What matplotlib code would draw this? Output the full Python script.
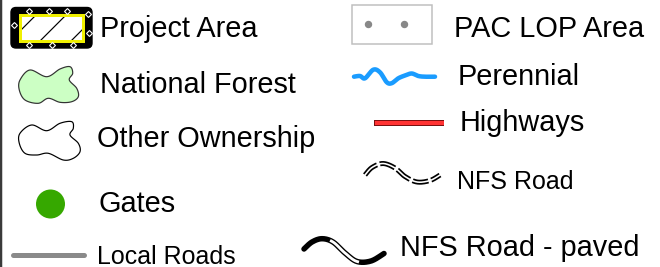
import numpy as np
import matplotlib
matplotlib.use("Agg")
import matplotlib.pyplot as plt
from matplotlib.patches import FancyBboxPatch, Rectangle, Polygon, Circle

# legend entries (left column, right column)
left_labels = ["Project Area", "National Forest", "Other Ownership", "Gates", "Local Roads"]
left_sizes = [20.8, 20.8, 20.8, 20.8, 18]
right_labels = ["PAC LOP Area", "Perennial", "Highways", "NFS Road", "NFS Road - paved"]
right_sizes = [20.8, 20.8, 20.8, 18, 20.8]

plt.rcParams['font.family'] = ['Liberation Sans', 'DejaVu Sans']


def smooth_closed(pts, n=20):
    # closed Catmull-Rom through the outline points
    p = np.asarray(pts, float)
    out = []
    m = len(p)
    for i in range(m):
        p0, p1, p2, p3 = p[i - 1], p[i], p[(i + 1) % m], p[(i + 2) % m]
        for t in np.linspace(0, 1, n, endpoint=False):
            t2, t3 = t * t, t * t * t
            out.append(0.5 * ((2 * p1) + (-p0 + p2) * t + (2 * p0 - 5 * p1 + 4 * p2 - p3) * t2
                              + (-p0 + 3 * p1 - 3 * p2 + p3) * t3))
    return np.array(out)


def smooth_open(pts, n=20):
    p = np.asarray(pts, float)
    p = np.vstack([p[0], p, p[-1]])
    out = []
    for i in range(1, len(p) - 2):
        p0, p1, p2, p3 = p[i - 1], p[i], p[i + 1], p[i + 2]
        for t in np.linspace(0, 1, n, endpoint=False):
            t2, t3 = t * t, t * t * t
            out.append(0.5 * ((2 * p1) + (-p0 + p2) * t + (2 * p0 - 5 * p1 + 4 * p2 - p3) * t2
                              + (-p0 + 3 * p1 - 3 * p2 + p3) * t3))
    out.append(p[-2])
    return np.array(out)


fig = plt.figure(figsize=(6.6, 2.67), dpi=100)
ax = fig.add_axes([0, 0, 1, 1])
ax.set_xlim(0, 660)
ax.set_ylim(267, 0)
ax.axis('off')

px = 0.72  # pixels -> points

# left border
ax.plot([1, 1], [0, 267], color='#3a3a3a', lw=2.5 * px)

# --- Project Area ---
ax.add_patch(FancyBboxPatch((11, 7.5), 81, 40.5, boxstyle="round,pad=0,rounding_size=5",
                            fc='black', ec='black', lw=1))
inner = Rectangle((19.5, 14.5), 63.5, 26, fc='white', ec='#f0f000', lw=3 * px, zorder=3)
ax.add_patch(inner)
for c in [51, 81, 112]:
    ln, = ax.plot([c - 45, c - 5], [45, 5], color='black', lw=1.2 * px, zorder=4)
    ln.set_clip_path(inner)
ax.add_patch(Rectangle((19.5, 14.5), 63.5, 26, fc='none', ec='#f0f000', lw=3 * px, zorder=5))
dx = [29, 49, 67, 29, 52, 73, 13.5, 88.5, 88]
dy = [10.5, 10.5, 10.5, 44.5, 44.5, 44.5, 25, 33, 14]
ax.plot(dx, dy, 'D', ms=3, mfc='black', mec='white', mew=0.8, ls='none', zorder=6)

# --- National Forest ---
nf = [(20, 80), (30, 70), (46.7, 76.7), (60, 69), (70, 66.7), (72.7, 73.3), (69.3, 80),
      (76.7, 88.3), (78.3, 96.7), (71.7, 101.7), (60, 102.3), (48.3, 98.3), (38.3, 103.3),
      (25, 100), (19.3, 90)]
ax.add_patch(Polygon(smooth_closed(nf), closed=True, fc='#ccffc4', ec='#333333', lw=1.2 * px))

# --- Other Ownership ---
oo = [(20, 133.3), (31.7, 125), (46.7, 130.7), (60, 123.3), (71.7, 121.7), (73.3, 128.3),
      (70, 135), (78.3, 143.3), (80, 151.7), (73.3, 158.3), (63.3, 160), (48.3, 153.3),
      (36.7, 155), (25, 153.3), (19.3, 143.3)]
ax.add_patch(Polygon(smooth_closed(oo), closed=True, fc='white', ec='black', lw=1.2 * px))

# --- Gates ---
ax.add_patch(Circle((50.5, 204), 14.5, fc='#36a800', ec='none'))

# --- Local Roads ---
ax.plot([13, 84], [255, 255], color='#8a8a8a', lw=5 * px, solid_capstyle='round')

# --- PAC LOP Area ---
ax.add_patch(Rectangle((352, 5), 80, 39, fc='white', ec='#bfbfbf', lw=1.5 * px))
ax.plot([368, 404], [23.5, 23.5], 'o', ms=6 * px, color='#888888')

# --- Perennial ---
per = [(354, 76.7), (360, 76), (365, 78.3), (373.3, 69.7), (380, 72.3), (386.7, 82.2),
       (391.7, 83.2), (398.3, 78.3), (405, 75.5), (411.7, 73.5), (418.3, 76), (425, 76.7), (435, 76.7)]
pp = smooth_open(per)
ax.plot(pp[:, 0], pp[:, 1], color='#1a9cff', lw=4.5 * px, solid_capstyle='round')

# --- Highways ---
ax.plot([374, 444], [123.3, 123.3], color='#7a1010', lw=6 * px, solid_capstyle='butt')
ax.plot([374.5, 443.5], [123, 123], color='#ff3333', lw=4 * px, solid_capstyle='butt')

# --- NFS Road ---
nfs = [(365, 175), (372, 167.5), (383, 163.5), (395, 168), (405, 176.5), (417, 182),
       (430, 180.5), (440, 175)]
nn = smooth_open(nfs)
ax.plot(nn[:, 0], nn[:, 1], color='black', lw=5 * px, dashes=(3.2, 0.6))
ax.plot(nn[:, 0], nn[:, 1], color='white', lw=1.6 * px)

# --- NFS Road - paved ---
pav = [(304, 249), (312, 242), (322, 238.7), (333, 242), (345, 253), (357, 261.5),
       (371, 261), (384, 253.5)]
pv = smooth_open(pav)
ax.plot(pv[:, 0], pv[:, 1], color='black', lw=5.5 * px, solid_capstyle='round')
mid = (pv[:, 0] > 331) & (pv[:, 0] < 358)
ax.plot(pv[mid, 0], pv[mid, 1], color='white', lw=2.8 * px)

# --- labels ---
left_x = [100, 100, 97, 98, 97]
left_y = [37, 93, 147, 212, 263.5]
for lab, x, y, s in zip(left_labels, left_x, left_y, left_sizes):
    ax.text(x, y, lab, fontsize=s, va='baseline', ha='left', color='black')

right_x = [454, 458, 460, 457, 400]
right_y = [37, 85, 131, 189, 256]
for lab, x, y, s in zip(right_labels, right_x, right_y, right_sizes):
    ax.text(x, y, lab, fontsize=s, va='baseline', ha='left', color='black')

fig.savefig("out.png", dpi=100)
